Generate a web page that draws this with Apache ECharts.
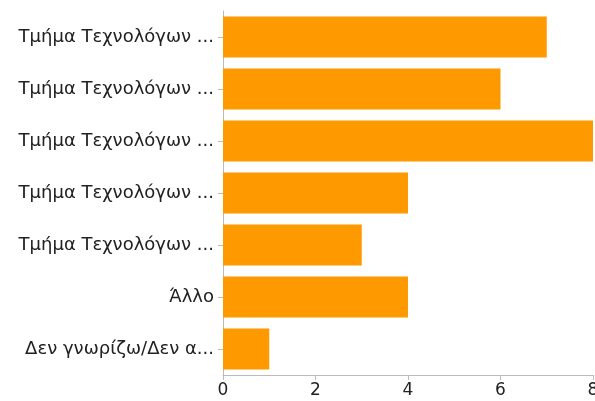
<!DOCTYPE html>
<html><head><meta charset="utf-8">
<script src="https://cdn.jsdelivr.net/npm/echarts@6/dist/echarts.min.js"></script>
<style>html,body{margin:0;padding:0;background:#fff}#c{width:595px;height:401px}</style>
</head><body><div id="c"></div>
<script>
const categories = ["Τμήμα Τεχνολόγων ...","Τμήμα Τεχνολόγων ...","Τμήμα Τεχνολόγων ...","Τμήμα Τεχνολόγων ...","Τμήμα Τεχνολόγων ...","Άλλο","Δεν γνωρίζω/Δεν α..."];
const values = [7,6,8,4,3,4,1];
const xTicks = [0,2,4,6,8];
const chart = echarts.init(document.getElementById('c'), null, {renderer:'canvas'});
chart.setOption({
  animation:false,
  grid:{left:223,right:2,top:11,bottom:26,containLabel:false,outerBoundsMode:'none'},
  xAxis:{type:'value',min:0,max:8,interval:2,
    axisLine:{show:true,lineStyle:{color:'#bbb'}},
    axisTick:{show:true,length:5,lineStyle:{color:'#bbb'}},
    splitLine:{show:false},
    axisLabel:{fontFamily:'DejaVu Sans',fontSize:17,color:'#222',margin:7,hideOverlap:false,
      formatter:v=>xTicks.includes(v)?String(v):''}},
  yAxis:{type:'category',inverse:true,data:categories,
    axisLine:{show:true,lineStyle:{color:'#bbb'}},
    axisTick:{show:true,length:5,alignWithLabel:true,lineStyle:{color:'#bbb'}},
    axisLabel:{fontFamily:'DejaVu Sans',fontSize:18,color:'#222',margin:9}},
  series:[{type:'bar',data:values,barCategoryGap:'21%',itemStyle:{color:'#ff9900'}}]
});
</script></body></html>
